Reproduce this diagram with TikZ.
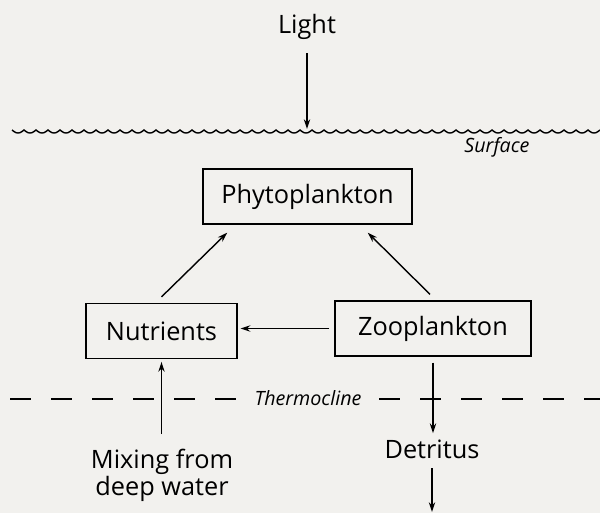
\documentclass[tikz,border=0pt]{standalone}
\usepackage{fontspec}
\setmainfont{Open Sans}
\usetikzlibrary{arrows.meta,calc}
\definecolor{paper}{RGB}{242,241,238}

\begin{document}
\begin{tikzpicture}[x=0.025cm, y=-0.025cm,
    box/.style={draw, line width=1pt, minimum height=39pt, inner sep=0pt, font=\fontsize{18}{21}\selectfont},
    lbl/.style={font=\fontsize{18}{19}\selectfont, align=center},
    tag/.style={font=\fontsize{14}{16}\selectfont\itshape},
    flow/.style={line width=1pt, -{Stealth[length=7pt,width=4.5pt]}}]
    \fill[paper] (0,0) rectangle (600,513);
    \useasboundingbox (0,0) rectangle (600,513);

    % Sea surface and thermocline
    \draw[line width=1pt] plot[domain=12:600, samples=589] (\x, {130+3*abs(sin((\x-12)*15))});
    \node[tag] (surf) at (497,147) {Surface};
    \draw[line width=1pt, dash pattern=on 14.94pt off 14.23pt] (10,399) -- (600,399);
    \node[tag, fill=paper, inner xsep=7pt] (thermo) at (308,398) {Thermocline};

    % Compartments
    \node[lbl] (light) at (307,27) {Light};
    \coordinate (lighttip) at (307,129);
    \node[box, minimum width=148.7pt] (phyto) at (307.5,196.5) {Phytoplankton};
    \node[box, minimum width=107.4pt] (nut) at (161.5,331) {Nutrients};
    \node[box, minimum width=139.4pt] (zoo) at (433,328.5) {Zooplankton};
    \node[lbl] (mix) at (162,475) {Mixing from\\deep water};
    \node[lbl] (det) at (432,449) {Detritus};
    \coordinate (floor) at (432,512);

    % Flows
    \draw[flow, shorten <=6pt] (light.south) -- (lighttip);
    \draw[flow] ($(nut.north)+(0,-6)$) -- ($(phyto.south west)+(25,8)$);
    \draw[flow] ($(zoo.north)+(-3,-6)$) -- ($(phyto.south east)+(-45,8)$);
    \draw[flow, shorten <=3.5pt, shorten >=2pt] (zoo.west) -- (nut.east |- zoo.west);
    \draw[flow, shorten <=7pt, shorten >=2pt] (mix.north -| nut.south) -- (nut.south);
    \draw[flow, shorten <=4.3pt, shorten >=1pt] (zoo.south) -- (det.north -| zoo.south);
    \draw[flow, shorten <=3.5pt] (det.south) -- (floor);
\end{tikzpicture}
\end{document}
